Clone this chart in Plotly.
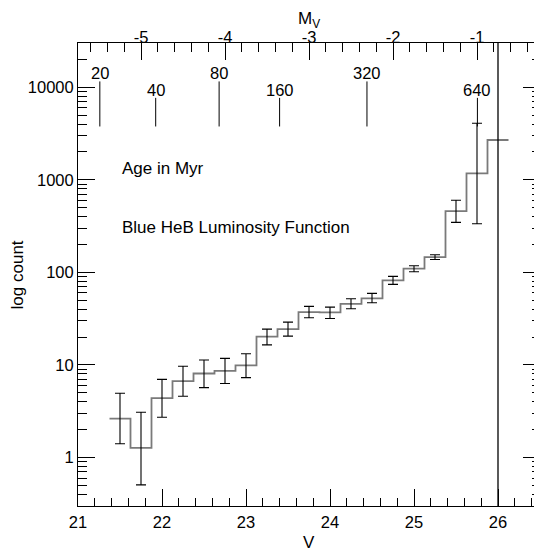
import math
import plotly.graph_objects as go

# ---- data ----
bin_width = 0.25
v_centers = [21.5, 21.75, 22.0, 22.25, 22.5, 22.75, 23.0, 23.25, 23.5, 23.75,
             24.0, 24.25, 24.5, 24.75, 25.0, 25.25, 25.5, 25.75, 26.0]
counts = [2.64, 1.27, 4.38, 6.68, 8.09, 8.65, 9.88, 20.2, 24.4, 37.2,
          36.9, 45.8, 52.4, 82.0, 110.0, 146.0, 458.0, 1170.0, 2690.0]
err_upper = [4.96, 3.09, 7.0, 9.7, 11.3, 11.8, 13.2, 24.4, 29.0, 42.9,
             42.2, 52.0, 59.3, 90.6, 118.0, 155.0, 600.0, 4080.0, None]
err_lower = [1.41, 0.507, 2.73, 4.6, 5.7, 6.3, 7.3, 16.5, 20.5, 32.4,
             31.8, 40.5, 47.0, 74.2, 101.7, 138.0, 347.0, 335.0, None]

age_labels = ["20", "40", "80", "160", "320", "640"]
age_v = [21.26, 21.925, 22.68, 23.40, 24.44, 25.755]

v_limit = 26.0
distance_modulus = 26.75  # M_V = V - distance_modulus

x_ticks = [21, 22, 23, 24, 25, 26]
mv_ticks = [-5, -4, -3, -2, -1]
y_ticks = [1, 10, 100, 1000, 10000]

x_range = [21.0, 26.5]
y_range = [0.3, 30000]

# ---- figure ----
FONT = "Liberation Sans, Arial, Helvetica, sans-serif"
FS_TICK = 16.5
FS = 17

edges = [c - bin_width / 2 for c in v_centers] + [v_centers[-1] + bin_width / 2]
step_y = counts + [counts[-1]]

fig = go.Figure()
fig.add_trace(go.Scatter(
    x=edges, y=step_y, mode="lines", line=dict(shape="hv", color="#7a7a7a", width=1.8),
    hoverinfo="skip", showlegend=False))

ex, ey, eplus, eminus = [], [], [], []
for c, n, hi, lo in zip(v_centers, counts, err_upper, err_lower):
    if hi is None:
        continue
    ex.append(c); ey.append(n); eplus.append(hi - n); eminus.append(n - lo)
fig.add_trace(go.Scatter(
    x=ex, y=ey, mode="markers", marker=dict(size=1, color="rgba(0,0,0,0)"),
    error_y=dict(type="data", symmetric=False, array=eplus, arrayminus=eminus,
                 color="black", thickness=1.1, width=5),
    showlegend=False, hoverinfo="skip"))

fig.add_trace(go.Scatter(x=[x_range[0] - distance_modulus], y=[1], xaxis="x2",
                         mode="markers", marker=dict(opacity=0), showlegend=False,
                         hoverinfo="skip"))

shapes = []
annotations = []
shapes.append(dict(type="line", xref="x", yref="paper", x0=v_limit, x1=v_limit,
                   y0=0, y1=1, line=dict(color="black", width=1.3)))
for i, (lab, v) in enumerate(zip(age_labels, age_v)):
    long_tick = (i % 2 == 0)
    top = 0.917 if long_tick else 0.8815
    shapes.append(dict(type="line", xref="x", yref="paper", x0=v, x1=v,
                       y0=0.8197, y1=top, line=dict(color="black", width=1)))
    annotations.append(dict(x=v, y=0.935 if long_tick else 0.899, xref="x", yref="paper",
                            text=lab, showarrow=False, xanchor="center", yanchor="middle",
                            font=dict(family=FONT, size=FS_TICK, color="black")))

annotations += [
    dict(x=0.0918, y=0.728, xref="paper", yref="paper", text="Age in Myr", showarrow=False,
         xanchor="left", yanchor="middle", font=dict(family=FONT, size=FS, color="black")),
    dict(x=0.0918, y=0.602, xref="paper", yref="paper", text="Blue HeB Luminosity Function",
         showarrow=False, xanchor="left", yanchor="middle",
         font=dict(family=FONT, size=FS, color="black")),
    dict(x=-0.13, y=0.5, xref="paper", yref="paper", text="log count", textangle=-90,
         showarrow=False, xanchor="center", yanchor="middle",
         font=dict(family=FONT, size=FS, color="black")),
    dict(x=0.5, y=-0.1037, xref="paper", yref="paper", text="V", showarrow=False,
         xanchor="center", yanchor="bottom", font=dict(family=FONT, size=FS, color="black")),
    dict(x=0.5, y=1.05, xref="paper", yref="paper", text="M<sub>V</sub>", showarrow=False,
         xanchor="center", yanchor="middle", font=dict(family=FONT, size=FS, color="black")),
]

y_minor = []
for e in range(-1, 5):
    for m in range(2, 10):
        val = m * 10 ** e
        if y_range[0] <= val <= y_range[1]:
            y_minor.append(val)

axis_common = dict(showgrid=False, zeroline=False, showline=True, linecolor="black",
                   linewidth=1, ticks="inside", tickcolor="black", tickwidth=1,
                   tickfont=dict(family=FONT, size=FS_TICK, color="black"))

fig.update_layout(
    width=540, height=554,
    margin=dict(l=78, r=0, t=43, b=48),
    paper_bgcolor="white", plot_bgcolor="white",
    shapes=shapes, annotations=annotations,
    xaxis=dict(range=x_range, tickvals=x_ticks, ticktext=[str(t) for t in x_ticks],
               ticklen=17, mirror=False, ticklabelstandoff=1,
               minor=dict(dtick=0.2, tick0=21, ticks="inside", ticklen=8.5,
                          tickcolor="black", tickwidth=1),
               **axis_common),
    xaxis2=dict(range=[x_range[0] - distance_modulus, x_range[1] - distance_modulus],
                overlaying="x", side="top", anchor="y",
                tickvals=mv_ticks, ticktext=[str(t) for t in mv_ticks], ticklen=17,
                ticklabelstandoff=-8,
                minor=dict(dtick=0.2, tick0=-5, ticks="inside", ticklen=9,
                           tickcolor="black", tickwidth=1),
                **axis_common),
    yaxis=dict(type="log", range=[math.log10(y_range[0]), math.log10(y_range[1])],
               tickvals=y_ticks, ticktext=[str(t) for t in y_ticks], ticklen=17,
               mirror="ticks",
               minor=dict(tickmode="array", tickvals=y_minor, ticks="inside", ticklen=8.5,
                          tickcolor="black", tickwidth=1),
               **axis_common),
)

fig.write_html("out.html",
               post_script="document.documentElement.style.overflow='hidden';"
                           "document.body.style.overflow='hidden';")
